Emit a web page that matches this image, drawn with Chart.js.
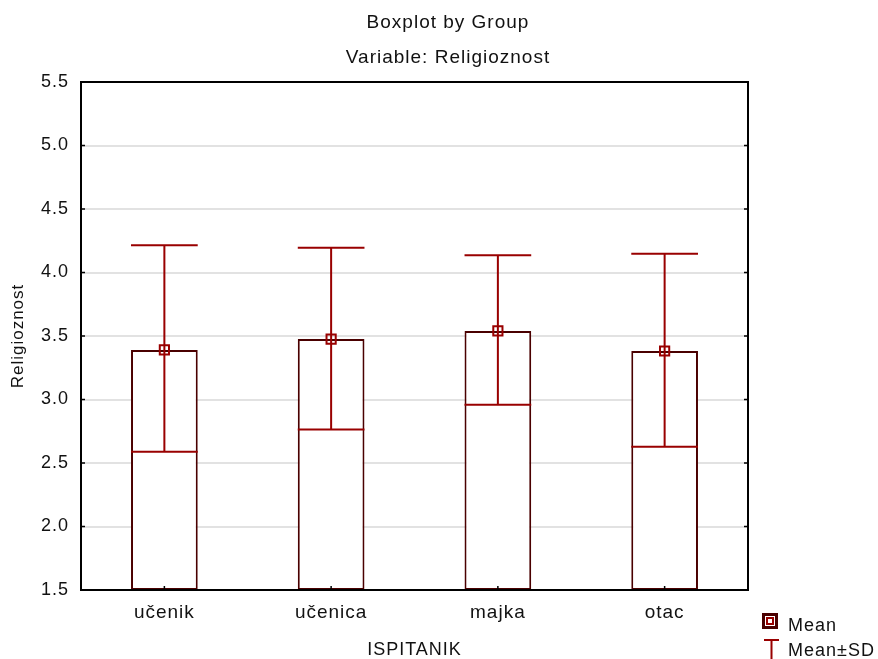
<!DOCTYPE html>
<html>
<head>
<meta charset="utf-8">
<script src="https://cdn.jsdelivr.net/npm/chart.js@4/dist/chart.umd.min.js"></script>
<style>
html,body{margin:0;padding:0;background:#fff;}
#wrap{width:878px;height:659px;position:relative;}
</style>
</head>
<body>
<div id="wrap"><canvas id="c" width="878" height="659"></canvas></div>
<script>
const categories = ["učenik", "učenica", "majka", "otac"];
const meanValues = [3.39, 3.476, 3.54, 3.382];
const upperSD = [4.215, 4.195, 4.135, 4.148];
const lowerSD = [2.588, 2.764, 2.958, 2.628];
const yTicks = [1.5, 2.0, 2.5, 3.0, 3.5, 4.0, 4.5, 5.0, 5.5];
const baseValue = 1.5;
const titleText = "Boxplot by Group";
const subtitleText = "Variable: Religioznost";
const legendLabels = ["Mean", "Mean±SD"];

const FONT = "'Liberation Sans', Arial, sans-serif";
const WHISKER = '#990000';
const BOXCOL = '#4a0000';
const TEXT = '#111';

const spacingPlugin = {
  id: 'spacing',
  beforeDraw(chart) { chart.ctx.letterSpacing = '1px'; }
};

const whiskerPlugin = {
  id: 'whiskers',
  afterDatasetDraw(chart, args) {
    if (args.index !== 0) return;
    const ctx = chart.ctx, y = chart.scales.y;
    const meta = chart.getDatasetMeta(0);
    ctx.save();
    ctx.strokeStyle = WHISKER;
    ctx.lineWidth = 2;
    meta.data.forEach((bar, i) => {
      const x = bar.x, hw = bar.width / 2;
      const yu = y.getPixelForValue(upperSD[i]);
      const yl = y.getPixelForValue(lowerSD[i]);
      ctx.beginPath();
      ctx.moveTo(x, yu); ctx.lineTo(x, yl);
      ctx.moveTo(x - hw, yu); ctx.lineTo(x + hw, yu);
      ctx.moveTo(x - hw, yl); ctx.lineTo(x + hw, yl);
      ctx.stroke();
    });
    ctx.restore();
  }
};

const framePlugin = {
  id: 'frame',
  afterDraw(chart) {
    const ctx = chart.ctx, a = chart.chartArea, y = chart.scales.y, xs = chart.scales.x;
    ctx.save();
    ctx.letterSpacing = '1px';
    ctx.strokeStyle = '#000';
    ctx.lineWidth = 2;
    ctx.strokeRect(a.left, a.top, a.right - a.left, a.bottom - a.top);
    ctx.lineWidth = 1.5;
    ctx.beginPath();
    yTicks.forEach(v => {
      const py = y.getPixelForValue(v);
      ctx.moveTo(a.left, py); ctx.lineTo(a.left + 4, py);
      ctx.moveTo(a.right, py); ctx.lineTo(a.right - 4, py);
    });
    categories.forEach((c, i) => {
      const px = xs.getPixelForValue(i);
      ctx.moveTo(px, a.bottom); ctx.lineTo(px, a.bottom - 4);
    });
    ctx.stroke();

    // titles
    ctx.fillStyle = TEXT;
    ctx.textAlign = 'center';
    ctx.textBaseline = 'middle';
    ctx.font = '19px ' + FONT;
    ctx.fillText(titleText, 448, 23);
    ctx.fillText(subtitleText, 448, 58);

    // legend
    ctx.strokeStyle = BOXCOL;
    ctx.lineWidth = 3;
    ctx.strokeRect(763.5, 614.5, 13, 13);
    ctx.strokeStyle = WHISKER;
    ctx.lineWidth = 2;
    ctx.strokeRect(767, 618, 6, 6);
    ctx.beginPath();
    ctx.moveTo(764, 640); ctx.lineTo(779, 640);
    ctx.moveTo(771.5, 640); ctx.lineTo(771.5, 659);
    ctx.stroke();
    ctx.fillStyle = TEXT;
    ctx.font = '18px ' + FONT;
    ctx.textAlign = 'left';
    ctx.fillText(legendLabels[0], 788, 626);
    ctx.fillText(legendLabels[1], 788, 651);
    ctx.restore();
  }
};

new Chart(document.getElementById('c'), {
  type: 'bar',
  data: {
    labels: categories,
    datasets: [
      {
        label: 'Box',
        data: meanValues.map(m => [baseValue, m]),
        backgroundColor: '#ffffff',
        borderColor: BOXCOL,
        borderWidth: 2,
        borderSkipped: false,
        barPercentage: 0.4,
        categoryPercentage: 1.0,
        order: 2
      },
      {
        type: 'line',
        label: 'Mean',
        data: meanValues,
        showLine: false,
        pointStyle: 'rect',
        pointRadius: 6.5,
        pointBorderWidth: 2,
        pointBorderColor: WHISKER,
        pointBackgroundColor: 'rgba(0,0,0,0)',
        order: 1
      }
    ]
  },
  options: {
    responsive: false,
    animation: false,
    devicePixelRatio: 1,
    layout: { padding: { left: 0, right: 130, top: 82, bottom: 0 } },
    plugins: {
      legend: { display: false },
      tooltip: { enabled: false },
      title: { display: false }
    },
    scales: {
      x: {
        afterFit(scale) { scale.height = 69; },
        grid: { display: false },
        border: { display: false },
        ticks: { color: TEXT, font: { family: FONT, size: 19 }, padding: 3 },
        title: {
          display: true, text: 'ISPITANIK', color: TEXT,
          font: { family: FONT, size: 18, lineHeight: 1.0 }, padding: { top: 0, bottom: 0 }
        }
      },
      y: {
        min: 1.5, max: 5.5,
        afterBuildTicks(scale) { scale.ticks = yTicks.map(v => ({ value: v })); },
        afterFit(scale) { scale.width = 81; },
        grid: { color: '#e2e2e2', lineWidth: 2, drawTicks: false },
        border: { display: false },
        ticks: {
          color: TEXT, font: { family: FONT, size: 18 }, padding: 12,
          callback: v => Number(v).toFixed(1)
        },
        title: {
          display: true, text: 'Religioznost', color: TEXT,
          font: { family: FONT, size: 17, lineHeight: 1.0 }, padding: { top: 10, bottom: 0 }
        }
      }
    }
  },
  plugins: [spacingPlugin, whiskerPlugin, framePlugin]
});
</script>
</body>
</html>
